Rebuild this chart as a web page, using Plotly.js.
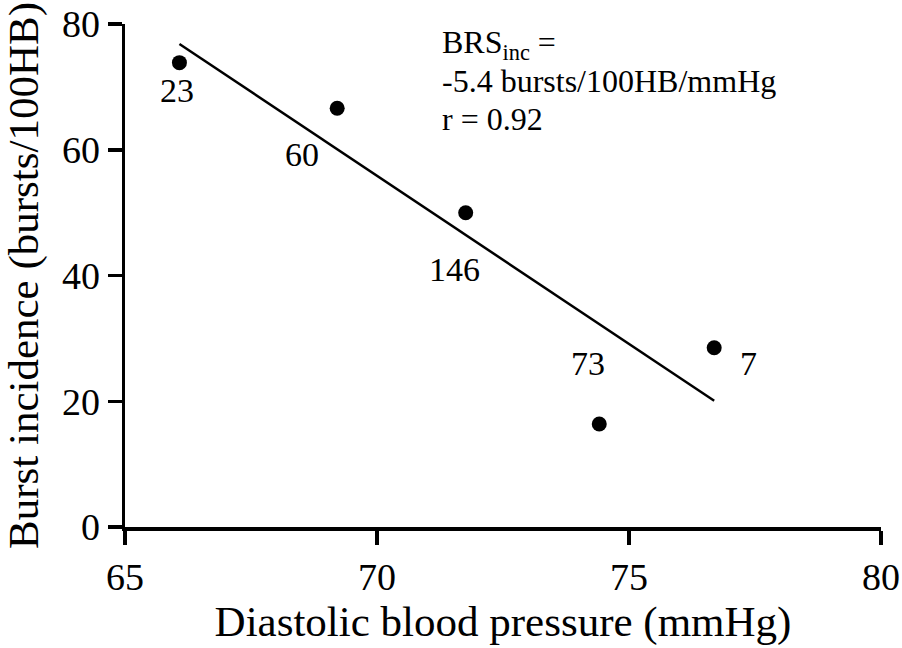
<!DOCTYPE html>
<html>
<head>
<meta charset="utf-8">
<script src="https://cdn.plot.ly/plotly-3.0.1.min.js"></script>
<style>
  html, body { margin: 0; padding: 0; background: #fff; }
  #chart { width: 902px; height: 648px; }
</style>
</head>
<body>
<div id="chart"></div>
<script>
// subject data: diastolic pressure vs burst incidence
const diastolic = [66.08, 69.21, 71.76, 74.41, 76.69];
const burstInc = [73.85, 66.59, 49.99, 16.38, 28.52];

// regression line end points
const fitX = [66.08, 76.69];
const fitY = [76.82, 20.09];

// numbers written next to each point, and where they sit
const pointLabels = ['23', '60', '146', '73', '7'];
const labelX = [66.04, 68.52, 71.53, 74.19, 77.38];
const labelY = [69.5, 59.2, 40.9, 26.0, 26.0];

const xTicks = [65, 70, 75, 80];
const yTicks = [0, 20, 40, 60, 80];

const serif = '"Liberation Serif", "DejaVu Serif", serif';

function main() {
  const dots = {
    x: diastolic,
    y: burstInc,
    mode: 'markers',
    type: 'scatter',
    marker: { color: '#000', size: 15 },
    cliponaxis: false,
    hoverinfo: 'x+y'
  };

  const fit = {
    x: fitX,
    y: fitY,
    mode: 'lines',
    type: 'scatter',
    line: { color: '#000', width: 2.5 },
    hoverinfo: 'skip'
  };

  // labels beside the dots
  const notes = pointLabels.map((t, i) => ({
    x: labelX[i],
    y: labelY[i],
    xref: 'x',
    yref: 'y',
    text: t,
    showarrow: false,
    xanchor: 'center',
    yanchor: 'middle',
    font: { family: serif, size: 34, color: '#000' }
  }));

  // the BRS text block, one line per annotation so spacing matches
  const brsLines = ['BRS<sub>inc</sub> =', '-5.4 bursts/100HB/mmHg', 'r = 0.92'];
  const brsY = [76.8, 70.9, 64.9];
  brsLines.forEach((t, i) => {
    notes.push({
      x: 71.25,
      y: brsY[i],
      xref: 'x',
      yref: 'y',
      text: t,
      showarrow: false,
      xanchor: 'left',
      yanchor: 'middle',
      font: { family: serif, size: 32, color: '#000' }
    });
  });

  const layout = {
    width: 902,
    height: 648,
    margin: { l: 125, r: 21, t: 24, b: 121 },
    paper_bgcolor: '#fff',
    plot_bgcolor: '#fff',
    showlegend: false,
    font: { family: serif, color: '#000' },
    xaxis: {
      range: [65, 80],
      tickvals: xTicks,
      ticktext: xTicks.map(String),
      showgrid: false,
      zeroline: false,
      showline: true,
      linecolor: '#000',
      linewidth: 3.5,
      ticks: 'outside',
      ticklen: 14,
      tickwidth: 3.5,
      tickcolor: '#000',
      tickfont: { family: serif, size: 38, color: '#000' },
      title: {
        text: 'Diastolic blood pressure (mmHg)',
        font: { family: serif, size: 43, color: '#000' },
        standoff: 9
      },
      automargin: false
    },
    yaxis: {
      range: [0, 80],
      tickvals: yTicks,
      ticktext: yTicks.map(String),
      showgrid: false,
      zeroline: false,
      showline: true,
      linecolor: '#000',
      linewidth: 3.5,
      ticks: 'outside',
      ticklen: 14,
      tickwidth: 3.5,
      tickcolor: '#000',
      tickfont: { family: serif, size: 38, color: '#000' },
      title: {
        text: 'Burst incidence (bursts/100HB)',
        font: { family: serif, size: 43, color: '#000' },
        standoff: 11
      },
      automargin: false
    },
    annotations: notes
  };

  Plotly.newPlot('chart', [fit, dots], layout, { displayModeBar: false, staticPlot: true });
}

main();
</script>
</body>
</html>
